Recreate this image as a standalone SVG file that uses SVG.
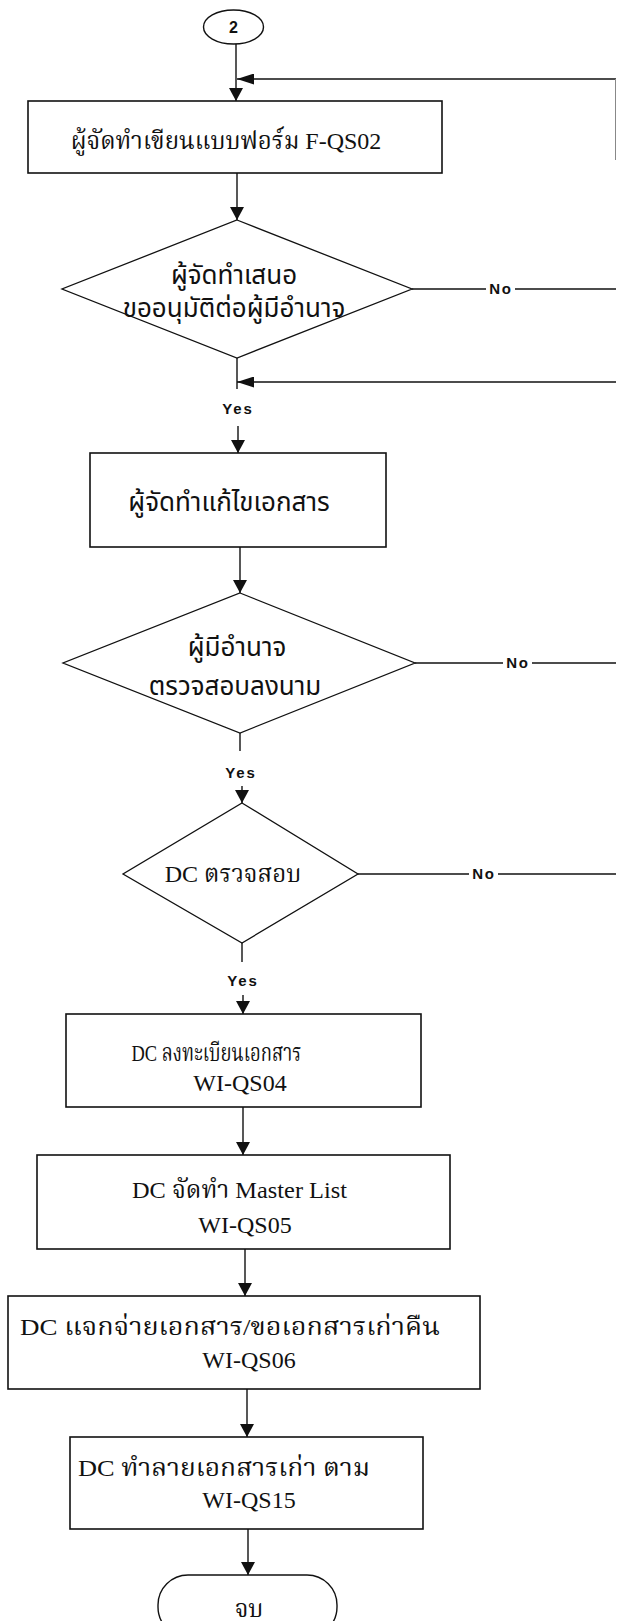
<svg xmlns="http://www.w3.org/2000/svg" width="617" height="1621" viewBox="0 0 617 1621">
  <defs>
    <style>
      .box { fill: #fff; stroke: #111; stroke-width: 1.6; }
      .dia { fill: #fff; stroke: #111; stroke-width: 1.3; }
      .ln { fill: none; stroke: #111; stroke-width: 1.4; }
      .thai { font-family: "Liberation Serif", "Noto Serif Thai", "Noto Sans Thai", "Loma", "Garuda", serif; font-size: 24px; fill: #111; text-anchor: middle; }
      .thaisans { font-family: "Liberation Sans", "Noto Sans Thai", "Loma", "Garuda", sans-serif; font-size: 26px; fill: #111; text-anchor: middle; }
      .lbl { font-family: "Liberation Sans", Arial, sans-serif; font-size: 15px; font-weight: bold; fill: #111; text-anchor: middle; letter-spacing: 1.8px; }
    </style>
    <marker id="arrD" viewBox="0 0 14 13" refX="7" refY="13" markerWidth="14" markerHeight="13" markerUnits="userSpaceOnUse" orient="0">
      <path d="M0,0 L14,0 L7,13 Z" fill="#111"/>
    </marker>
    <marker id="arrL" viewBox="0 0 17 11" refX="0" refY="5.5" markerWidth="17" markerHeight="11" markerUnits="userSpaceOnUse" orient="0">
      <path d="M0,5.5 L17,0 L17,11 Z" fill="#111"/>
    </marker>
  </defs>

  <rect width="617" height="1621" fill="#fff"/>

  <g id="connectors">
    <!-- connector 2 -> form -->
    <line class="ln" x1="236" y1="44" x2="236" y2="101" marker-end="url(#arrD)"/>
    <!-- return loop into the form step -->
    <line class="ln" x1="616" y1="79" x2="237" y2="79" marker-end="url(#arrL)"/>
    <line x1="615.5" y1="79" x2="615.5" y2="160" stroke="#888" stroke-width="1"/>
    <!-- form -> decision 1 -->
    <line class="ln" x1="237" y1="173" x2="237" y2="220" marker-end="url(#arrD)"/>
    <!-- decision 1 No -->
    <line class="ln" x1="412" y1="289" x2="486" y2="289"/>
    <line class="ln" x1="515" y1="289" x2="616" y2="289"/>
    <!-- decision 1 Yes -->
    <line class="ln" x1="237" y1="358" x2="237" y2="389"/>
    <line class="ln" x1="616" y1="382" x2="237" y2="382" marker-end="url(#arrL)"/>
    <line class="ln" x1="238" y1="426" x2="238" y2="453" marker-end="url(#arrD)"/>
    <!-- edit -> decision 2 -->
    <line class="ln" x1="240" y1="547" x2="240" y2="593" marker-end="url(#arrD)"/>
    <!-- decision 2 No -->
    <line class="ln" x1="415" y1="663" x2="503" y2="663"/>
    <line class="ln" x1="532" y1="663" x2="616" y2="663"/>
    <!-- decision 2 Yes -->
    <line class="ln" x1="240" y1="733" x2="240" y2="751"/>
    <line class="ln" x1="242" y1="786" x2="242" y2="803" marker-end="url(#arrD)"/>
    <!-- decision 3 No -->
    <line class="ln" x1="358" y1="874" x2="469" y2="874"/>
    <line class="ln" x1="498" y1="874" x2="616" y2="874"/>
    <!-- decision 3 Yes -->
    <line class="ln" x1="242" y1="943" x2="242" y2="962"/>
    <line class="ln" x1="243" y1="995" x2="243" y2="1014" marker-end="url(#arrD)"/>
    <!-- process chain -->
    <line class="ln" x1="243" y1="1107" x2="243" y2="1155" marker-end="url(#arrD)"/>
    <line class="ln" x1="245" y1="1249" x2="245" y2="1296" marker-end="url(#arrD)"/>
    <line class="ln" x1="247" y1="1389" x2="247" y2="1437" marker-end="url(#arrD)"/>
    <line class="ln" x1="248" y1="1529" x2="248" y2="1575" marker-end="url(#arrD)"/>
    <!-- branch labels -->
    <text class="lbl" x="501" y="294">No</text>
    <text class="lbl" x="518" y="668">No</text>
    <text class="lbl" x="484" y="879">No</text>
    <text class="lbl" x="238" y="414">Yes</text>
    <text class="lbl" x="241" y="778">Yes</text>
    <text class="lbl" x="243" y="986">Yes</text>
  </g>

  <g id="connector-2">
    <ellipse cx="233.5" cy="27" rx="30" ry="17" fill="#fff" stroke="#111" stroke-width="1.4"/>
    <text x="233.5" y="33" font-family="Liberation Sans, Arial, sans-serif" font-size="16" font-weight="bold" text-anchor="middle" fill="#111">2</text>
  </g>

  <g id="step-form">
    <rect class="box" x="28" y="101" width="414" height="72"/>
    <text class="thai" x="226" y="149">ผู้จัดทำเขียนแบบฟอร์ม F-QS02</text>
  </g>

  <g id="decision-propose">
    <polygon class="dia" points="237,220 412,289 237,358 62,289"/>
    <text class="thaisans" x="234" y="284">ผู้จัดทำเสนอ</text>
    <text class="thaisans" x="234" y="317">ขออนุมัติต่อผู้มีอำนาจ</text>
  </g>

  <g id="step-edit">
    <rect class="box" x="90" y="453" width="296" height="94"/>
    <text class="thaisans" x="229" y="511">ผู้จัดทำแก้ไขเอกสาร</text>
  </g>

  <g id="decision-approve">
    <polygon class="dia" points="240,593 415,663 240,733 63,663"/>
    <text class="thaisans" x="237" y="656" font-size="25">ผู้มีอำนาจ</text>
    <text class="thaisans" x="235" y="695" font-size="25">ตรวจสอบลงนาม</text>
  </g>

  <g id="decision-dc">
    <polygon class="dia" points="242,803 358,874 242,943 123,874"/>
    <text class="thai" x="233" y="882" font-size="22">DC ตรวจสอบ</text>
  </g>

  <g id="step-register">
    <rect class="box" x="66" y="1014" width="355" height="93"/>
    <text class="thai" x="216.5" y="1061" font-size="26" textLength="170" lengthAdjust="spacingAndGlyphs">DC ลงทะเบียนเอกสาร</text>
    <text class="thai" x="240" y="1091">WI-QS04</text>
  </g>

  <g id="step-masterlist">
    <rect class="box" x="37" y="1155" width="413" height="94"/>
    <text class="thai" x="239.5" y="1198" textLength="215" lengthAdjust="spacingAndGlyphs">DC จัดทำ Master List</text>
    <text class="thai" x="245" y="1233">WI-QS05</text>
  </g>

  <g id="step-distribute">
    <rect class="box" x="8" y="1296" width="472" height="93"/>
    <text class="thai" x="230" y="1335" font-size="25" textLength="420" lengthAdjust="spacingAndGlyphs">DC แจกจ่ายเอกสาร/ขอเอกสารเก่าคืน</text>
    <text class="thai" x="249" y="1368">WI-QS06</text>
  </g>

  <g id="step-destroy">
    <rect class="box" x="70" y="1437" width="353" height="92"/>
    <text class="thai" x="224" y="1476" textLength="292" lengthAdjust="spacingAndGlyphs">DC ทำลายเอกสารเก่า ตาม</text>
    <text class="thai" x="249" y="1508">WI-QS15</text>
  </g>

  <g id="end">
    <rect x="158" y="1575" width="179" height="62" rx="30" ry="30" fill="#fff" stroke="#111" stroke-width="1.4"/>
    <text class="thai" x="249" y="1617">จบ</text>
  </g>
</svg>
